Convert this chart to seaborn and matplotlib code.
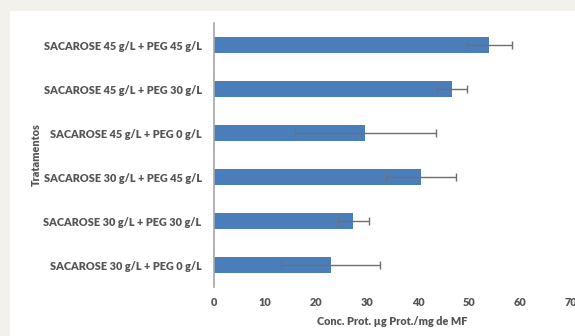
import matplotlib
matplotlib.use("Agg")
import matplotlib.pyplot as plt
import seaborn as sns
import pandas as pd
from matplotlib.patches import Rectangle

categories = [
    "SACAROSE 45 g/L + PEG 45 g/L",
    "SACAROSE 45 g/L + PEG 30 g/L",
    "SACAROSE 45 g/L + PEG 0 g/L",
    "SACAROSE 30 g/L + PEG 45 g/L",
    "SACAROSE 30 g/L + PEG 30 g/L",
    "SACAROSE 30 g/L + PEG 0 g/L",
]
values = [54.0, 46.7, 29.7, 40.6, 27.3, 22.9]
errors = [4.4, 2.9, 13.9, 6.8, 3.0, 9.7]
xticks = [0, 10, 20, 30, 40, 50, 60, 70]

df = pd.DataFrame({"Tratamento": categories, "Conc": values})

sns.set_theme(style="white")
plt.rcParams["font.family"] = ["Lato", "DejaVu Sans"]

fig = plt.figure(figsize=(5.75, 3.36), dpi=100, facecolor="#f3f1ec")
fig.patches.append(Rectangle((10 / 575, 0), 1, (336 - 11) / 336, transform=fig.transFigure,
                             facecolor="white", edgecolor="none", zorder=-5))
ax = fig.add_axes([214 / 575, (336 - 287) / 336, (571 - 214) / 575, (287 - 23) / 336])
ax.set_facecolor("none")
ax.set_zorder(2)

sns.barplot(data=df, x="Conc", y="Tratamento", orient="h", color="#4a7ebb",
            width=0.35, saturation=1, ax=ax, errorbar=None, linewidth=0)
ax.errorbar(values, range(len(categories)), xerr=errors, fmt="none",
            ecolor="#6f6f6f", elinewidth=1, capsize=3, capthick=1)

ax.set_xlim(0, 70)
ax.set_xticks(xticks)
ax.set_xticklabels([str(t) for t in xticks])
ax.set_ylim(5.5, -0.5)
for s in ["top", "right", "bottom"]:
    ax.spines[s].set_visible(False)
ax.spines["left"].set_color("#a6a6a6")
ax.spines["left"].set_linewidth(1.2)
ax.tick_params(axis="both", length=0, colors="#555555")
for lab in ax.get_yticklabels():
    lab.set_fontsize(7.8)
    lab.set_fontweight("heavy")
for lab in ax.get_xticklabels():
    lab.set_fontsize(7.8)
    lab.set_fontweight("heavy")
ax.tick_params(axis="y", pad=9)
ax.tick_params(axis="x", pad=7)
ax.set_xlabel("Conc. Prot. µg Prot./mg de MF", fontsize=7.8, fontweight="heavy",
              color="#555555", labelpad=6)
ax.set_ylabel("")
fig.text(36 / 575, 1 - 155 / 336, "Tratamentos", rotation=90, ha="center", va="center",
         fontsize=7.8, fontweight="heavy", color="#555555")

fig.savefig("out.png", dpi=100, facecolor=fig.get_facecolor())
